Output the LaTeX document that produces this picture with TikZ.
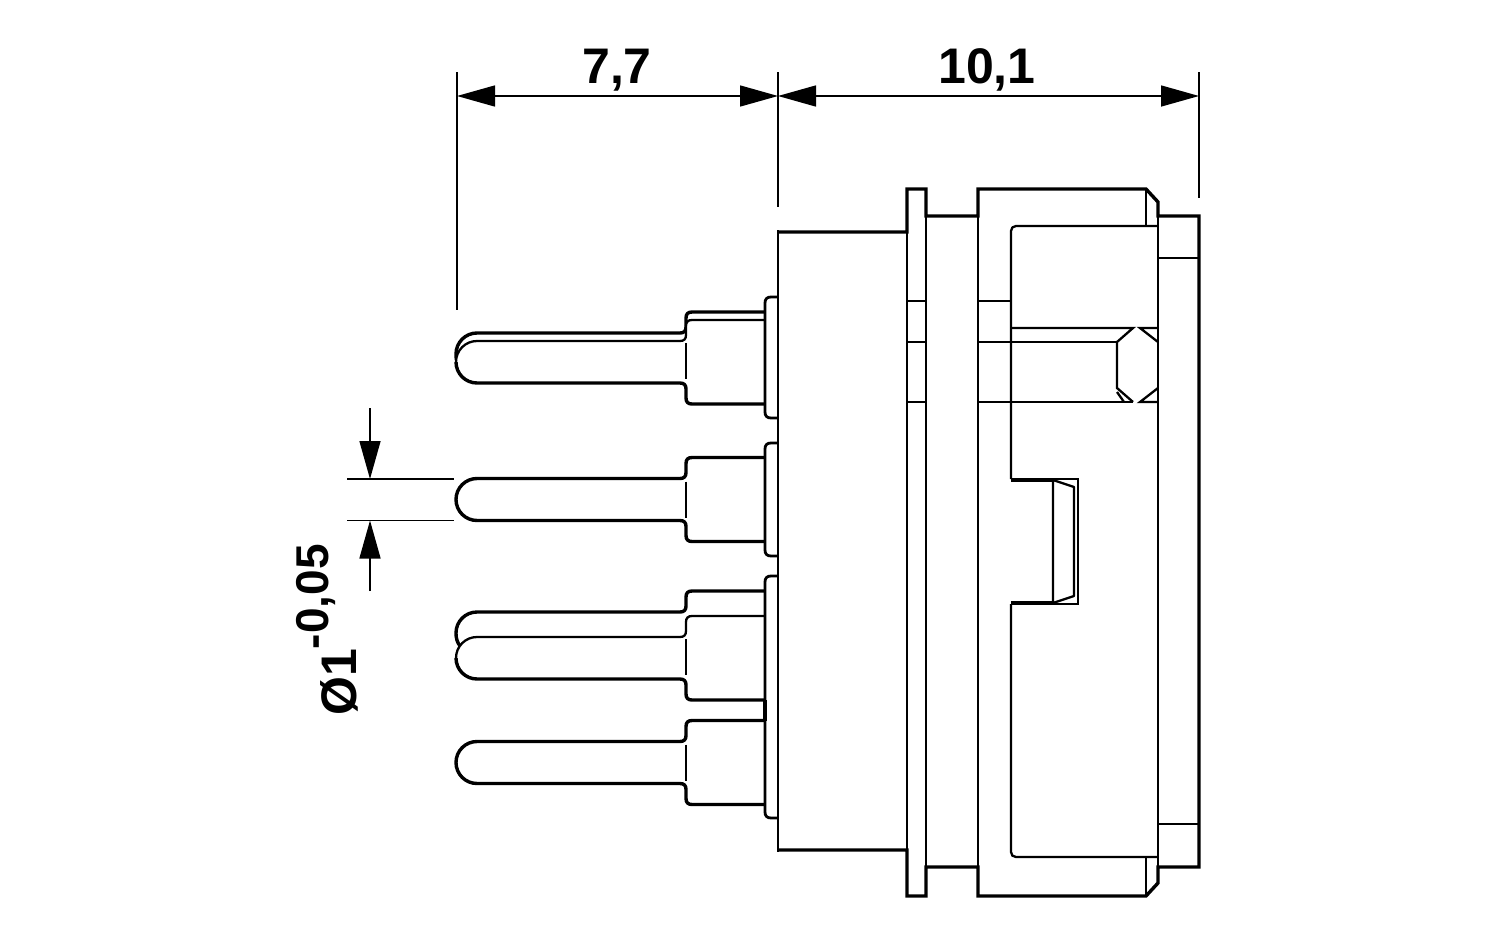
\documentclass[tikz,border=0pt]{standalone}
\usepackage{fontspec}
\setmainfont{Liberation Sans}
\usetikzlibrary{arrows.meta}
\newcommand{\pintop}[1]{(765,#1-42) -- (692,#1-42) .. controls (688,#1-42) and (686,#1-40) .. (686,#1-36) -- (686,#1-27) .. controls (686,#1-23) and (684,#1-21) .. (680,#1-21) -- (477,#1-21) .. controls (465.4,#1-21) and (456,#1-11.6) .. (456,#1)}
\newcommand{\pinbot}[1]{(456,#1) .. controls (456,#1+11.6) and (465.4,#1+21) .. (477,#1+21) -- (680,#1+21) .. controls (684,#1+21) and (686,#1+23) .. (686,#1+27) -- (686,#1+36) .. controls (686,#1+40) and (688,#1+42) .. (692,#1+42) -- (765,#1+42)}
\newcommand{\pinmark}[1]{(686,#1-18) -- (686,#1+18)}
\tikzset{
  outline/.style={line width=3.4pt,line join=miter,line cap=butt},
  edge/.style={line width=2.3pt,line cap=butt},
  plate/.style={line width=2.8pt,line cap=butt},
  hair/.style={line width=1.5pt,line cap=butt},
  faint/.style={line width=1.1pt},
  dimline/.style={line width=1.5pt},
  dimtip/.style={-{Triangle[length=38pt,width=21pt]}},
  dimboth/.style={{Triangle[length=38pt,width=21pt]}-{Triangle[length=38pt,width=21pt]}},
  dimtext/.style={font=\bfseries\fontsize{50}{50}\selectfont,inner sep=0pt},
}
\begin{document}
\begin{tikzpicture}[x=1pt,y=-1pt]
\useasboundingbox (0,0) rectangle (1500,937);
\fill[white] (0,0) rectangle (1500,937);
% dimension coordinates
\coordinate (topA) at (457,96);
\coordinate (topB) at (778,96);
\coordinate (topC) at (1199,96);
\coordinate (extAt) at (457,72);
\coordinate (extAb) at (457,310);
\coordinate (extBt) at (778,72);
\coordinate (extBb) at (778,207);
\coordinate (extCt) at (1199,72);
\coordinate (extCb) at (1199,198);
\coordinate (diaTopFree) at (370,408);
\coordinate (diaTop) at (370,479);
\coordinate (diaBot) at (370,520.5);
\coordinate (diaBotFree) at (370,591);
\coordinate (diaExtTa) at (347,479);
\coordinate (diaExtTb) at (454,479);
\coordinate (diaExtBa) at (347,520.5);
\coordinate (diaExtBb) at (454,520.5);
% body outline
\draw[outline] (778,232) -- (907,232) -- (907,189) -- (926,189) -- (926,216) -- (978,216) -- (978,189) -- (1146,189) -- (1158,202) -- (1158,216) -- (1199,216) -- (1199,867) -- (1158,867) -- (1158,883) -- (1146,896) -- (978,896) -- (978,867) -- (926,867) -- (926,896) -- (907,896) -- (907,850) -- (778,850);
\draw[plate] (778,230.3) -- (778,851.7);
% flange and collar verticals
\draw[edge] (907,232) -- (907,850) (926,216) -- (926,867) (978,216) -- (978,867) (1158,202) -- (1158,883);
\draw[edge] (1146,189) -- (1146,226) (1146,857) -- (1146,896);
% horizontal section lines
\draw[edge] (907,301) -- (926,301) (978,301) -- (1011,301);
\draw[edge] (907,342) -- (926,342) (978,342) -- (1117,342);
\draw[edge] (907,402) -- (926,402) (978,402) -- (1133,402);
\draw[edge] (1158,258) -- (1199,258) (1158,824) -- (1199,824);
% inner cavity
\draw[edge,line join=round] (1158,226) -- (1016,226) .. controls (1013,226) and (1011,228) .. (1011,231) -- (1011,479);
\draw[edge] (1011,604) -- (1011,852) .. controls (1011,855) and (1013,857) .. (1016,857) -- (1158,857);
\draw[outline] (1011,480) -- (1053,480) (1011,603) -- (1053,603);
\draw[hair] (1053,479) -- (1078,479) -- (1078,604) -- (1053,604);
\draw[edge,line join=round] (1053,480) -- (1053,603) -- (1074,596) -- (1074,487) -- cycle;
% keyway detail
\draw[edge] (1011,328) -- (1133,328) -- (1117,342) -- (1117,388) -- (1133,402);
\draw[edge] (1117,392) -- (1124,402);
\draw[edge] (1158,328) -- (1140,328) -- (1158,342);
\draw[edge] (1158,402) -- (1140,402) -- (1158,388);
% pins behind
\draw[outline] \pintop{354} .. controls (456,356) and (456,358) .. (456.5,360);
\draw[outline] \pintop{633} .. controls (456,638) and (457,642) .. (460,646);
% front pins
\fill[white] \pintop{362} -- \pinbot{362} -- cycle;
\fill[white] \pintop{658} -- \pinbot{658} -- cycle;
\draw[edge] \pintop{362};
\draw[outline] \pinbot{362};
\draw[edge] \pintop{658};
\draw[outline] \pinbot{658};
\draw[outline] \pintop{499.5} -- \pinbot{499.5};
\draw[outline] \pintop{762.5} -- \pinbot{762.5};
\draw[faint] \pinmark{361} \pinmark{499.5} \pinmark{657} \pinmark{762.5};
% plates
\draw[plate,line join=round] (778,297) -- (771,297) .. controls (767,297) and (765,299) .. (765,303) -- (765,412) .. controls (765,416) and (767,418) .. (771,418) -- (778,418);
\draw[plate,line join=round] (778,443) -- (771,443) .. controls (767,443) and (765,445) .. (765,449) -- (765,550) .. controls (765,554) and (767,556) .. (771,556) -- (778,556);
\draw[plate,line join=round] (778,576) -- (771,576) .. controls (767,576) and (765,578) .. (765,582) -- (765,812) .. controls (765,816) and (767,818) .. (771,818) -- (778,818);
\draw[outline] (765,700) -- (765,721);
% dimensions
\draw[dimline] (extAt) -- (extAb);
\draw[dimline] (extBt) -- (extBb);
\draw[dimline] (extCt) -- (extCb);
\draw[dimline,dimboth] (topA) -- (topB);
\draw[dimline,dimboth] (topB) -- (topC);
\draw[dimline] (diaExtTa) -- (diaExtTb);
\draw[dimline] (diaExtBa) -- (diaExtBb);
\draw[dimline,dimtip] (diaTopFree) -- (diaTop);
\draw[dimline,dimtip] (diaBotFree) -- (diaBot);
\node[dimtext,anchor=base] (labelA) at (617,83) {7,7};
\node[dimtext,anchor=base] (labelB) at (987,83) {10,1};
\node[dimtext,anchor=base west,rotate=90] (labelC) at (356,716) {Ø1\raisebox{28pt}{\fontsize{46}{46}\selectfont -0,05}};
\end{tikzpicture}
\end{document}
